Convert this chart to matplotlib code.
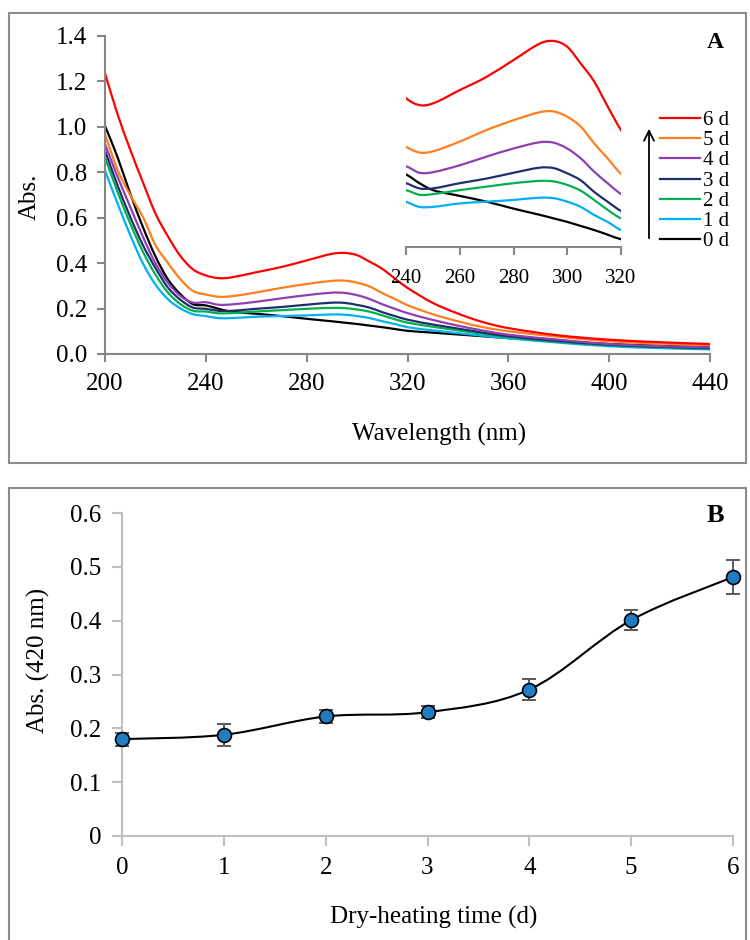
import numpy as np
import matplotlib
matplotlib.use("Agg")
import matplotlib.pyplot as plt
from matplotlib.path import Path
from matplotlib.patches import PathPatch, Rectangle
from matplotlib.lines import Line2D

plt.rcParams['font.family'] = ['Liberation Serif', 'DejaVu Serif']

# ---------------- Data ----------------
wavelength = [200, 205, 210, 215, 220, 225, 230, 235, 240, 245, 250, 260, 270, 280, 290, 295,
              300, 305, 310, 315, 320, 330, 340, 350, 360, 380, 400, 420, 440]

abs_0d = [1.004, 0.866, 0.706, 0.560, 0.430, 0.328, 0.262, 0.219, 0.214, 0.199, 0.187, 0.177, 0.167,
          0.155, 0.144, 0.138, 0.132, 0.125, 0.118, 0.110, 0.102, 0.094, 0.086, 0.078, 0.070, 0.056,
          0.044, 0.036, 0.030]
abs_1d = [0.808, 0.662, 0.524, 0.400, 0.306, 0.241, 0.200, 0.175, 0.167, 0.158, 0.158, 0.164, 0.167,
          0.170, 0.174, 0.173, 0.167, 0.158, 0.144, 0.132, 0.118, 0.104, 0.092, 0.080, 0.069, 0.050,
          0.034, 0.026, 0.020]
abs_2d = [0.866, 0.713, 0.575, 0.451, 0.350, 0.270, 0.219, 0.190, 0.187, 0.179, 0.180, 0.187, 0.193,
          0.199, 0.203, 0.202, 0.196, 0.186, 0.170, 0.153, 0.138, 0.120, 0.104, 0.089, 0.075, 0.054,
          0.039, 0.030, 0.024]
abs_3d = [0.895, 0.742, 0.604, 0.480, 0.379, 0.292, 0.238, 0.204, 0.199, 0.190, 0.190, 0.199, 0.207,
          0.217, 0.226, 0.225, 0.216, 0.204, 0.184, 0.167, 0.151, 0.130, 0.112, 0.094, 0.078, 0.057,
          0.041, 0.032, 0.026]
abs_4d = [0.924, 0.780, 0.648, 0.517, 0.400, 0.313, 0.255, 0.226, 0.228, 0.217, 0.218, 0.230, 0.245,
          0.259, 0.270, 0.269, 0.259, 0.242, 0.219, 0.199, 0.180, 0.150, 0.125, 0.103, 0.085, 0.063,
          0.044, 0.035, 0.029]
abs_5d = [0.967, 0.810, 0.700, 0.604, 0.480, 0.400, 0.328, 0.277, 0.262, 0.252, 0.254, 0.271, 0.291,
          0.308, 0.322, 0.323, 0.314, 0.297, 0.268, 0.242, 0.215, 0.175, 0.144, 0.118, 0.100, 0.076,
          0.056, 0.046, 0.039]
abs_6d = [1.236, 1.055, 0.900, 0.757, 0.619, 0.517, 0.430, 0.372, 0.346, 0.334, 0.337, 0.360, 0.383,
          0.412, 0.441, 0.445, 0.435, 0.406, 0.375, 0.332, 0.291, 0.225, 0.178, 0.140, 0.114, 0.082,
          0.063, 0.052, 0.044]

series_labels = ['0 d', '1 d', '2 d', '3 d', '4 d', '5 d', '6 d']
series_colors = ['#000000', '#00b0f0', '#00b050', '#1f2f6e', '#8e3fb0', '#ff7f1e', '#ff0000']
spectra = [abs_0d, abs_1d, abs_2d, abs_3d, abs_4d, abs_5d, abs_6d]

heating_days = [0, 1, 2, 3, 4, 5, 6]
abs_420 = [0.180, 0.188, 0.222, 0.230, 0.272, 0.401, 0.481]
abs_420_err = [0.012, 0.020, 0.012, 0.011, 0.020, 0.019, 0.031]


def smooth_path(x, y):
    """Cubic Hermite bezier path through the given points."""
    x = np.asarray(x, float)
    y = np.asarray(y, float)
    n = len(x)
    m = np.zeros(n)
    for i in range(n):
        a = max(i - 1, 0)
        b = min(i + 1, n - 1)
        m[i] = (y[b] - y[a]) / (x[b] - x[a])
    verts = [(x[0], y[0])]
    codes = [Path.MOVETO]
    for i in range(n - 1):
        h = x[i + 1] - x[i]
        verts += [(x[i] + h / 3, y[i] + m[i] * h / 3),
                  (x[i + 1] - h / 3, y[i + 1] - m[i + 1] * h / 3),
                  (x[i + 1], y[i + 1])]
        codes += [Path.CURVE4] * 3
    return Path(verts, codes)


# ---------------- Figure ----------------
W, H = 750, 940
fig = plt.figure(figsize=(W / 100, H / 100), dpi=100)


def fx(px):
    return px / W


def fy(py):
    return 1 - py / H


frame_col = '#8c8c8c'
fig.patches.append(Rectangle((fx(9), fy(463)), fx(746) - fx(9), fy(13) - fy(463),
                             transform=fig.transFigure, fill=False, ec=frame_col, lw=1.5))
fig.patches.append(Rectangle((fx(9), fy(950)), fx(746) - fx(9), fy(488) - fy(950),
                             transform=fig.transFigure, fill=False, ec=frame_col, lw=1.5,
                             clip_on=False))

FS = 18
FS_IN = 15
axis_col_a = '#868686'

# ---------------- Panel A ----------------
axA = fig.add_axes([fx(105), fy(354), fx(710) - fx(105), fy(36) - fy(354)])
for col, yv in zip(series_colors, spectra):
    axA.add_patch(PathPatch(smooth_path(wavelength, yv), fill=False, ec=col, lw=1.6))
axA.set_xlim(200, 440)
axA.set_ylim(0, 1.4)
axA.set_xticks([200, 240, 280, 320, 360, 400, 440])
axA.set_yticks(np.arange(0, 1.41, 0.2))
axA.set_yticklabels([f"{v:.1f}" for v in np.arange(0, 1.41, 0.2)])
for s in ['top', 'right']:
    axA.spines[s].set_visible(False)
for s in ['left', 'bottom']:
    axA.spines[s].set_color(axis_col_a)
    axA.spines[s].set_linewidth(1.5)
axA.tick_params(direction='out', length=6, width=1.5, color=axis_col_a, labelsize=FS)
axA.tick_params(axis='y', pad=7)
axA.tick_params(axis='x', pad=8)
axA.set_facecolor('none')

fig.text(fx(30), fy(197), 'Abs.', rotation=90, ha='center', va='center', fontsize=FS)
fig.text(fx(439), fy(434), 'Wavelength (nm)', ha='center', va='center', fontsize=FS)
fig.text(fx(715), fy(42), 'A', ha='center', va='center', fontsize=17, fontweight='bold')

# Inset
axI = fig.add_axes([fx(406), fy(247), fx(621) - fx(406), fy(30) - fy(247)])
for col, yv in zip(series_colors, spectra):
    axI.add_patch(PathPatch(smooth_path(wavelength, yv), fill=False, ec=col, lw=1.6))
axI.set_xlim(240, 320)
axI.set_ylim(0.0886, 0.464)
axI.set_xticks([240, 260, 280, 300, 320])
axI.set_yticks([])
for s in ['top', 'right', 'left']:
    axI.spines[s].set_visible(False)
axI.spines['bottom'].set_color(axis_col_a)
axI.spines['bottom'].set_linewidth(1.5)
axI.tick_params(direction='out', length=6, width=1.5, color=axis_col_a, labelsize=FS_IN, pad=10)
axI.set_facecolor('none')

# Legend for inset (6 d on top), drawn row by row
for k, (lab, col) in enumerate(zip(series_labels[::-1], series_colors[::-1])):
    yrow = 118 + k * 20.2
    fig.add_artist(Line2D([fx(660), fx(700)], [fy(yrow), fy(yrow)], color=col, lw=1.6,
                          transform=fig.transFigure))
    fig.text(fx(703), fy(yrow), lab, ha='left', va='center_baseline', fontsize=FS_IN)

axA.annotate('', xy=(fx(649), fy(126)), xytext=(fx(649), fy(241)),
             xycoords='figure fraction', textcoords='figure fraction',
             arrowprops=dict(arrowstyle='->', color='black', lw=1.3, mutation_scale=18))

# ---------------- Panel B ----------------
axis_col_b = '#bfbfbf'
axB = fig.add_axes([fx(122), fy(836), fx(733) - fx(122), fy(513) - fy(836)])
axB.set_xlim(0, 6)
axB.set_ylim(0, 0.6)
axB.set_xticks(heating_days)
axB.set_yticks(np.arange(0, 0.61, 0.1))
axB.set_yticklabels(['0'] + [f"{v:.1f}" for v in np.arange(0.1, 0.61, 0.1)])
for s in ['top', 'right']:
    axB.spines[s].set_visible(False)
for s in ['left', 'bottom']:
    axB.spines[s].set_color(axis_col_b)
    axB.spines[s].set_linewidth(1.5)
axB.tick_params(direction='out', length=7, width=1.5, color=axis_col_b, labelsize=FS)
axB.tick_params(axis='y', pad=8)
axB.tick_params(axis='x', pad=8)

# smooth line through points (Catmull-Rom style bezier)
xs = np.array(heating_days, dtype=float)
ys = np.array(abs_420, dtype=float)
n = len(xs)
verts = [(xs[0], ys[0])]
codes = [Path.MOVETO]
for i in range(n - 1):
    p0 = (xs[max(i - 1, 0)], ys[max(i - 1, 0)])
    p1 = (xs[i], ys[i])
    p2 = (xs[i + 1], ys[i + 1])
    p3 = (xs[min(i + 2, n - 1)], ys[min(i + 2, n - 1)])
    c1 = (p1[0] + (p2[0] - p0[0]) / 6, p1[1] + (p2[1] - p0[1]) / 6)
    c2 = (p2[0] - (p3[0] - p1[0]) / 6, p2[1] - (p3[1] - p1[1]) / 6)
    verts += [c1, c2, p2]
    codes += [Path.CURVE4] * 3
axB.add_patch(PathPatch(Path(verts, codes), fill=False, ec='black', lw=1.5, zorder=2))

axB.errorbar(heating_days, abs_420, yerr=abs_420_err, fmt='none', ecolor='#595959',
             elinewidth=1.4, capsize=5, capthick=1.4, zorder=3, clip_on=False)
axB.plot(heating_days, abs_420, linestyle='none', marker='o', markersize=10,
         markerfacecolor='#1f7dc2', markeredgecolor='black', markeredgewidth=1.2,
         zorder=4, clip_on=False)

fig.text(fx(38), fy(660), 'Abs. (420 nm)', rotation=90, ha='center', va='center', fontsize=FS)
fig.text(fx(434), fy(917), 'Dry-heating time (d)', ha='center', va='center', fontsize=FS)
fig.text(fx(715), fy(515), 'B', ha='center', va='center', fontsize=19, fontweight='bold')

fig.savefig('out.png', dpi=100)
